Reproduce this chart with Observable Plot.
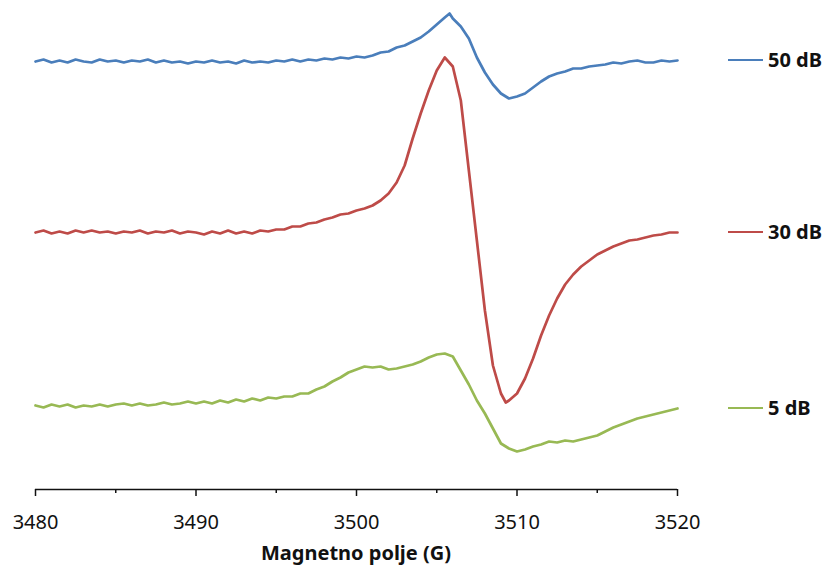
<!DOCTYPE html>
<html><head><meta charset="utf-8">
<script src="https://cdn.jsdelivr.net/npm/d3@7"></script>
<script src="https://cdn.jsdelivr.net/npm/@observablehq/plot@0.6"></script>
<style>
body{margin:0;background:#fff;}
#wrap{position:relative;width:828px;height:570px;font-family:"Noto Sans",sans-serif;}
.leg{position:absolute;left:728px;transform:translateY(-50%);display:flex;align-items:center;font-weight:bold;font-size:20px;color:#111;line-height:24px;white-space:nowrap;}
.leg .sw{display:inline-block;width:35px;height:2.5px;margin-right:5px;}
#title{position:absolute;left:35px;width:642px;top:553px;transform:translateY(-50%);text-align:center;font-weight:bold;font-size:20px;color:#111;line-height:24px;}
</style></head>
<body>
<div id="wrap"></div>
<script>
// Magnetic field (G)
const field50 = [3480,3480.5,3481,3481.5,3482,3482.5,3483,3483.5,3484,3484.5,3485,3485.5,3486,3486.5,3487,3487.5,3488,3488.5,3489,3489.5,3490,3490.5,3491,3491.5,3492,3492.5,3493,3493.5,3494,3494.5,3495,3495.5,3496,3496.5,3497,3497.5,3498,3498.5,3499,3499.5,3500,3500.5,3501,3501.5,3502,3502.5,3503,3503.5,3504,3504.5,3505,3505.5,3505.8,3506,3506.5,3507,3507.5,3508,3508.5,3509,3509.5,3510,3510.5,3511,3511.5,3512,3512.5,3513,3513.5,3514,3514.5,3515,3515.5,3516,3516.5,3517,3517.5,3518,3518.5,3519,3519.5,3520];
const signal50 = [428,430,427,429,427,430,428,427,430,428,429,427,429,428,430,427,429,427,428,426,428,427,429,427,428,426,429,427,428,427,429,428,430,428,430,429,431,430,432,431,433,432,434,437,438,442,444,448,452,458,465,472,476,471,463,451,432,417,405,396,391,393,396,402,408,413,416,418,421,421,423,424,425,427,426,428,429,427,427,429,428,429];

const field30 = [3480,3480.5,3481,3481.5,3482,3482.5,3483,3483.5,3484,3484.5,3485,3485.5,3486,3486.5,3487,3487.5,3488,3488.5,3489,3489.5,3490,3490.5,3491,3491.5,3492,3492.5,3493,3493.5,3494,3494.5,3495,3495.5,3496,3496.5,3497,3497.5,3498,3498.5,3499,3499.5,3500,3500.5,3501,3501.5,3502,3502.5,3503,3503.5,3504,3504.5,3505,3505.5,3506,3506.5,3507,3507.5,3508,3508.5,3509,3509.3,3509.5,3510,3510.5,3511,3511.5,3512,3512.5,3513,3513.5,3514,3514.5,3515,3515.5,3516,3516.5,3517,3517.5,3518,3518.5,3519,3519.5,3520];
const signal30 = [257,259,256,258,256,259,257,259,257,258,256,258,257,259,256,258,257,259,256,258,257,255,258,256,259,256,258,256,259,258,260,260,263,263,266,267,270,272,275,276,279,281,284,289,296,307,324,351,376,399,419,432,423,389,319,249,179,124,96,87,89,96,111,131,154,174,191,205,215,223,229,235,239,243,246,249,250,252,254,255,257,257];

const field5 = [3480,3480.5,3481,3481.5,3482,3482.5,3483,3483.5,3484,3484.5,3485,3485.5,3486,3486.5,3487,3487.5,3488,3488.5,3489,3489.5,3490,3490.5,3491,3491.5,3492,3492.5,3493,3493.5,3494,3494.5,3495,3495.5,3496,3496.5,3497,3497.5,3498,3498.5,3499,3499.5,3500,3500.5,3501,3501.5,3502,3502.5,3503,3503.5,3504,3504.5,3505,3505.5,3506,3506.5,3507,3507.5,3508,3508.5,3509,3509.5,3510,3510.5,3511,3511.5,3512,3512.5,3513,3513.5,3514,3514.5,3515,3515.5,3516,3516.5,3517,3517.5,3518,3518.5,3519,3519.5,3520];
const signal5 = [84,82,85,83,85,82,84,83,85,83,85,86,84,86,84,85,87,85,86,88,86,88,86,89,87,90,88,91,89,92,91,93,93,96,96,100,103,108,112,117,120,123,122,123,120,121,123,125,128,132,135,136,133,119,105,89,76,61,46,41,38,40,43,45,48,47,49,48,50,52,54,58,62,65,68,71,73,75,77,79,81];

const seriesNames = ["50 dB", "30 dB", "5 dB"];
const seriesColors = ["#4A7EBB", "#BE4B48", "#98B954"];
const majorTicks = [3480, 3490, 3500, 3510, 3520];
const minorTicks = [3485, 3495, 3505, 3515];
const axisTitle = "Magnetno polje (G)";

const rows = [];
[[field50, signal50], [field30, signal30], [field5, signal5]].forEach(([f, s], i) => {
  f.forEach((x, j) => rows.push({series: seriesNames[i], x, y: s[j]}));
});

const chart = Plot.plot({
  width: 828,
  height: 570,
  marginLeft: 35,
  marginRight: 151,
  marginTop: 0,
  marginBottom: 81,
  style: {fontFamily: "Noto Sans, sans-serif", fontSize: "20px", color: "#111", background: "transparent", overflow: "visible"},
  x: {domain: [3480, 3520]},
  y: {domain: [0, 489], axis: null},
  color: {domain: seriesNames, range: seriesColors},
  marks: [
    Plot.line(rows, {x: "x", y: "y", z: "series", stroke: "series", strokeWidth: 2.7, strokeLinejoin: "round"}),
    Plot.ruleY([0], {stroke: "#111", strokeWidth: 1.5}),
    Plot.axisX({ticks: majorTicks, tickSize: 7, tickPadding: 18, tickFormat: d => String(d), stroke: "#111", strokeWidth: 1.5, label: null, fill: "#111"}),
    Plot.axisX({ticks: minorTicks, tickSize: 4, tickFormat: () => "", stroke: "#111", strokeWidth: 1.5, label: null})
  ]
});

const wrap = document.getElementById("wrap");
wrap.appendChild(chart);

const title = document.createElement("div");
title.id = "title";
title.textContent = axisTitle;
wrap.appendChild(title);

// legend labels aligned with each trace's final value
const lastVals = [signal50[signal50.length - 1], signal30[signal30.length - 1], signal5[signal5.length - 1]];
seriesNames.forEach((name, i) => {
  const d = document.createElement("div");
  d.className = "leg";
  const py = 489 - (lastVals[i] / 489) * 489;
  d.style.top = py + "px";
  d.innerHTML = `<span class="sw" style="background:${seriesColors[i]}"></span><span>${name}</span>`;
  wrap.appendChild(d);
});
</script>
</body></html>
